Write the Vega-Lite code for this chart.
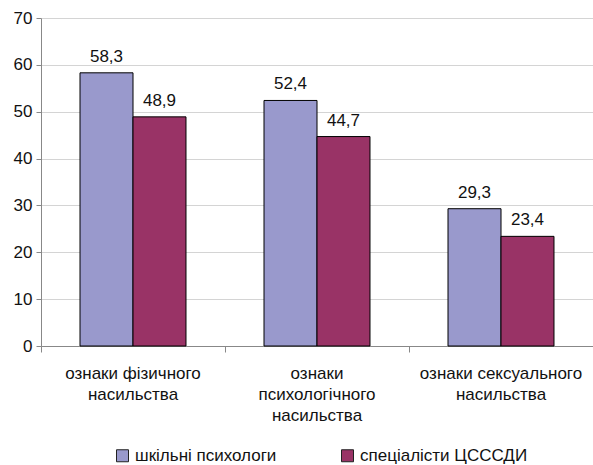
{
  "$schema": "https://vega.github.io/schema/vega-lite/v6.json",
  "width": 552,
  "height": 328,
  "autosize": "none",
  "padding": {"left": 41, "top": 18, "right": 0, "bottom": 119},
  "background": "white",
  "config": {
    "view": {"stroke": null},
    "font": "Liberation Sans",
    "locale": {"number": {"decimal": ",", "thousands": " ", "grouping": [3], "currency": ["", ""]}}
  },
  "data": {
    "values": [
      {"cat": "ознаки фізичного|насильства", "group": "шкільні психологи", "value": 58.3},
      {"cat": "ознаки фізичного|насильства", "group": "спеціалісти ЦСССДИ", "value": 48.9},
      {"cat": "ознаки|психологічного|насильства", "group": "шкільні психологи", "value": 52.4},
      {"cat": "ознаки|психологічного|насильства", "group": "спеціалісти ЦСССДИ", "value": 44.7},
      {"cat": "ознаки сексуального|насильства", "group": "шкільні психологи", "value": 29.3},
      {"cat": "ознаки сексуального|насильства", "group": "спеціалісти ЦСССДИ", "value": 23.4}
    ]
  },
  "encoding": {
    "x": {
      "field": "cat", "type": "nominal", "sort": null,
      "scale": {"paddingInner": 0, "paddingOuter": 0},
      "axis": {
        "title": null, "labelAngle": 0, "bandPosition": 0,
        "labelExpr": "split(datum.label, '|')",
        "labelFontSize": 17, "labelColor": "#111", "labelPadding": 13, "labelLineHeight": 21, "labelLimit": 300,
        "domainColor": "#888", "tickColor": "#888", "tickSize": 6, "grid": false
      }
    },
    "xOffset": {"field": "group", "type": "nominal", "sort": ["шкільні психологи", "спеціалісти ЦСССДИ"], "scale": {"paddingInner": 0, "paddingOuter": 0.736}},
    "y": {
      "field": "value", "type": "quantitative",
      "scale": {"domain": [0, 70], "nice": false},
      "axis": {
        "title": null, "values": [0, 10, 20, 30, 40, 50, 60, 70],
        "labelFontSize": 17, "labelColor": "#111", "labelPadding": 4,
        "domainColor": "#888", "tickColor": "#888", "tickSize": 5,
        "gridColor": "#d4d4d4", "gridWidth": 1
      }
    }
  },
  "layer": [
    {
      "mark": {"type": "bar", "stroke": "#000", "strokeWidth": 1},
      "encoding": {
        "color": {
          "field": "group", "type": "nominal",
          "scale": {"domain": ["шкільні психологи", "спеціалісти ЦСССДИ"], "range": ["#9999CC", "#993366"]},
          "legend": {
            "title": null, "orient": "none", "direction": "horizontal",
            "legendX": 73, "legendY": 429,
            "symbolType": "square", "symbolSize": 144, "symbolStrokeColor": "#222", "symbolStrokeWidth": 1,
            "labelFontSize": 17, "labelColor": "#111", "labelLimit": 300, "columnPadding": 62, "labelOffset": 4
          }
        }
      }
    },
    {
      "mark": {"type": "text", "baseline": "alphabetic", "dy": -11, "fontSize": 17, "color": "#111"},
      "encoding": {
        "text": {"field": "value", "type": "quantitative", "format": ".1f"}
      }
    }
  ]
}
